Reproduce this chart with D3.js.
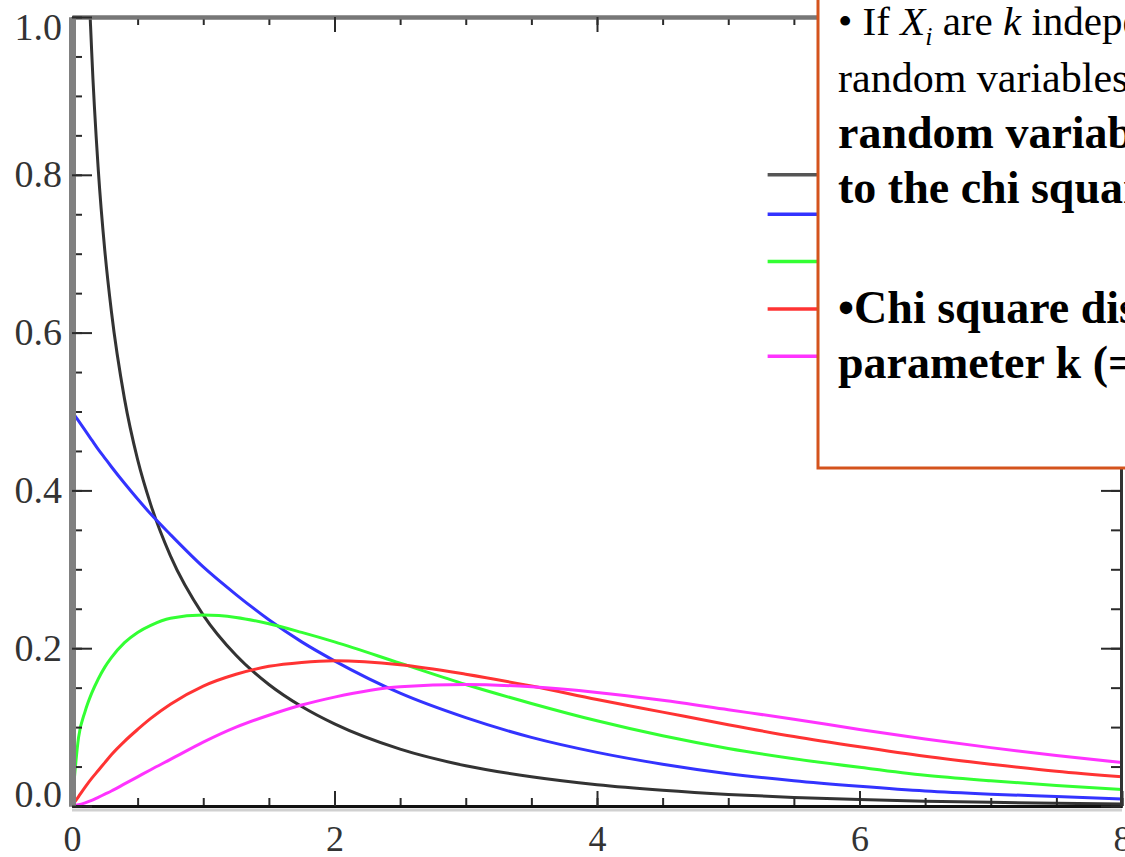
<!DOCTYPE html>
<html>
<head>
<meta charset="utf-8">
<script src="https://cdn.jsdelivr.net/npm/d3@7"></script>
<style>
  body { margin: 0; background: #fff; }
  svg { display: block; }
  .serif { font-family: "Liberation Serif", "Times New Roman", serif; }
</style>
</head>
<body>
<div id="chart"></div>
<script>
// chi square densities, k = 1..5
const xValues = [0, 0.05, 0.1, 0.15, 0.2, 0.25, 0.3, 0.4, 0.5, 0.6, 0.75, 1, 1.25, 1.5, 1.75, 2, 2.5, 3, 3.5, 4, 4.5, 5, 5.5, 6, 6.5, 7, 7.5, 8];
const chi1 = [null, 1.740, 1.200, 0.956, 0.807, 0.704, 0.627, 0.516, 0.439, 0.382, 0.317, 0.242, 0.191, 0.154, 0.126, 0.104, 0.072, 0.051, 0.037, 0.027, 0.020, 0.0147, 0.0109, 0.0081, 0.0061, 0.0046, 0.0034, 0.0026];
const chi2 = [0.5, 0.488, 0.476, 0.464, 0.452, 0.441, 0.430, 0.409, 0.389, 0.370, 0.344, 0.303, 0.268, 0.236, 0.208, 0.184, 0.143, 0.112, 0.087, 0.068, 0.053, 0.041, 0.032, 0.025, 0.019, 0.015, 0.012, 0.009];
const chi3 = [0, 0.087, 0.120, 0.143, 0.161, 0.176, 0.188, 0.207, 0.220, 0.229, 0.238, 0.242, 0.239, 0.231, 0.220, 0.208, 0.181, 0.154, 0.130, 0.108, 0.089, 0.073, 0.060, 0.049, 0.039, 0.032, 0.026, 0.021];
const chi4 = [0, 0.012, 0.024, 0.035, 0.045, 0.055, 0.065, 0.082, 0.097, 0.111, 0.129, 0.152, 0.167, 0.177, 0.182, 0.184, 0.179, 0.167, 0.152, 0.135, 0.119, 0.103, 0.088, 0.075, 0.063, 0.053, 0.044, 0.037];
const chi5 = [0, 0.0015, 0.004, 0.007, 0.011, 0.015, 0.019, 0.028, 0.037, 0.046, 0.059, 0.081, 0.100, 0.115, 0.128, 0.138, 0.151, 0.154, 0.151, 0.144, 0.134, 0.122, 0.110, 0.097, 0.085, 0.074, 0.064, 0.055];
const seriesColors = ["#333333", "#3333ff", "#33ff33", "#ff3333", "#ff33ff"];
const legendY = [0.8, 0.75, 0.69, 0.63, 0.57]; // where the legend swatches sit, in y units
const xTicks = [0, 2, 4, 6, 8];
const yTicks = [0, 0.2, 0.4, 0.6, 0.8, 1.0];

const allSeries = [chi1, chi2, chi3, chi4, chi5];

const svgWidth = 1125, svgHeight = 857;
const margin = {top: 17, right: 3, bottom: 51, left: 72};

const svg = d3.select("#chart").append("svg")
  .attr("width", svgWidth)
  .attr("height", svgHeight);

const xScale = d3.scaleLinear()
  .domain([0, 8])
  .range([margin.left, svgWidth - margin.right]);
const yScale = d3.scaleLinear()
  .domain([0, 1])
  .range([svgHeight - margin.bottom, margin.top]);

svg.append("clipPath").attr("id", "plotClip")
  .append("rect")
  .attr("x", xScale(0)).attr("y", yScale(1))
  .attr("width", xScale(8) - xScale(0))
  .attr("height", yScale(0) - yScale(1));

// curves
const line = d3.line()
  .defined(d => d[1] !== null)
  .x(d => xScale(d[0]))
  .y(d => yScale(d[1]))
  .curve(d3.curveMonotoneX);

const curves = svg.append("g").attr("clip-path", "url(#plotClip)");
allSeries.forEach(function(s, i) {
  curves.append("path")
    .datum(xValues.map((x, j) => [x, s[j]]))
    .attr("d", line)
    .attr("fill", "none")
    .attr("stroke", seriesColors[i])
    .attr("stroke-width", 3);
});

// frame + ticks
const minorX = d3.range(0, 8.01, 0.5);
const minorY = d3.range(0, 1.001, 0.05);

function styleAxis(g, color, width) {
  g.select(".domain").attr("stroke", color).attr("stroke-width", width);
  g.selectAll(".tick line").attr("stroke", "#2a2a2a").attr("stroke-width", 2);
}

// bottom
svg.append("line")
  .attr("x1", xScale(0)).attr("x2", xScale(8))
  .attr("y1", yScale(0) + 4).attr("y2", yScale(0) + 4)
  .attr("stroke", "#d0d0d0").attr("stroke-width", 3);

svg.append("g")
  .attr("transform", "translate(0," + yScale(0) + ")")
  .call(d3.axisBottom(xScale).tickValues(minorX).tickSize(-8).tickSizeOuter(0).tickFormat(""))
  .call(g => styleAxis(g, "#111", 3));
const xAx = svg.append("g")
  .attr("transform", "translate(0," + yScale(0) + ")")
  .call(d3.axisBottom(xScale).tickValues(xTicks).tickSize(-15).tickSizeOuter(0).tickPadding(19).tickFormat(d3.format("d")))
  .call(g => styleAxis(g, "#111", 3));
xAx.selectAll("text").attr("class", "serif").attr("font-size", 36).attr("fill", "#333");

// top
svg.append("g")
  .attr("transform", "translate(0," + yScale(1) + ")")
  .call(d3.axisTop(xScale).tickValues(minorX).tickSize(-8).tickSizeOuter(0).tickFormat(""))
  .call(g => styleAxis(g, "#777", 4));
svg.append("g")
  .attr("transform", "translate(0," + yScale(1) + ")")
  .call(d3.axisTop(xScale).tickValues(xTicks).tickSize(-15).tickSizeOuter(0).tickFormat(""))
  .call(g => styleAxis(g, "#777", 4));

// right
svg.append("g")
  .attr("transform", "translate(" + (xScale(8) - 1) + ",0)")
  .call(d3.axisRight(yScale).tickValues(minorY).tickSize(-10).tickSizeOuter(0).tickFormat(""))
  .call(g => styleAxis(g, "#333", 3));
svg.append("g")
  .attr("transform", "translate(" + (xScale(8) - 1) + ",0)")
  .call(d3.axisRight(yScale).tickValues(yTicks).tickSize(-20).tickSizeOuter(0).tickFormat(""))
  .call(g => styleAxis(g, "#333", 3));

// left
svg.append("g")
  .attr("transform", "translate(" + xScale(0) + ",0)")
  .call(d3.axisLeft(yScale).tickValues(minorY).tickSize(-10).tickSizeOuter(0).tickFormat(""))
  .call(g => styleAxis(g, "#808080", 7));
const yAx = svg.append("g")
  .attr("transform", "translate(" + xScale(0) + ",0)")
  .call(d3.axisLeft(yScale).tickValues(yTicks).tickSize(-20).tickSizeOuter(0).tickPadding(10).tickFormat(d3.format(".1f")))
  .call(g => styleAxis(g, "#808080", 7));
yAx.selectAll("text").attr("class", "serif").attr("font-size", 38).attr("fill", "#333")
  .attr("dy", d => d === 1 ? "0.58em" : (d === 0 ? "0.02em" : "0.32em"));

// legend swatches (their labels are hidden under the box)
svg.append("g").selectAll("line")
  .data(legendY)
  .join("line")
  .attr("x1", xScale(5.3)).attr("x2", xScale(5.8))
  .attr("y1", d => yScale(d)).attr("y2", d => yScale(d))
  .attr("stroke", (d, i) => i === 0 ? "#555" : seriesColors[i])
  .attr("stroke-width", 3.5);

// text box on top, running off the right edge like the slide it came from
const box = svg.append("g").attr("class", "serif");
box.append("rect")
  .attr("x", 818).attr("y", -20)
  .attr("width", 420).attr("height", 488)
  .attr("fill", "#fff")
  .attr("stroke", "#d4531c")
  .attr("stroke-width", 3);

const t1 = box.append("text").attr("x", 838).attr("y", 35).attr("font-size", 41);
t1.append("tspan").text("\u2022 If ");
t1.append("tspan").attr("font-style", "italic").text("X");
t1.append("tspan").attr("font-style", "italic").attr("font-size", 26).attr("dy", 10).text("i");
t1.append("tspan").attr("dy", -10).text(" are ");
t1.append("tspan").attr("font-style", "italic").text("k");
t1.append("tspan").text(" independent");

box.append("text").attr("x", 838).attr("y", 92).attr("font-size", 42)
  .text("random variables,");

const boldLines = [
  ["random variable", 148],
  ["to the chi square", 203],
  ["\u2022Chi square distribution", 323],
  ["parameter k (= dof)", 378]
];
boldLines.forEach(function(l) {
  box.append("text").attr("x", 838).attr("y", l[1])
    .attr("font-size", 46).attr("font-weight", "bold")
    .text(l[0]);
});
</script>
</body>
</html>
